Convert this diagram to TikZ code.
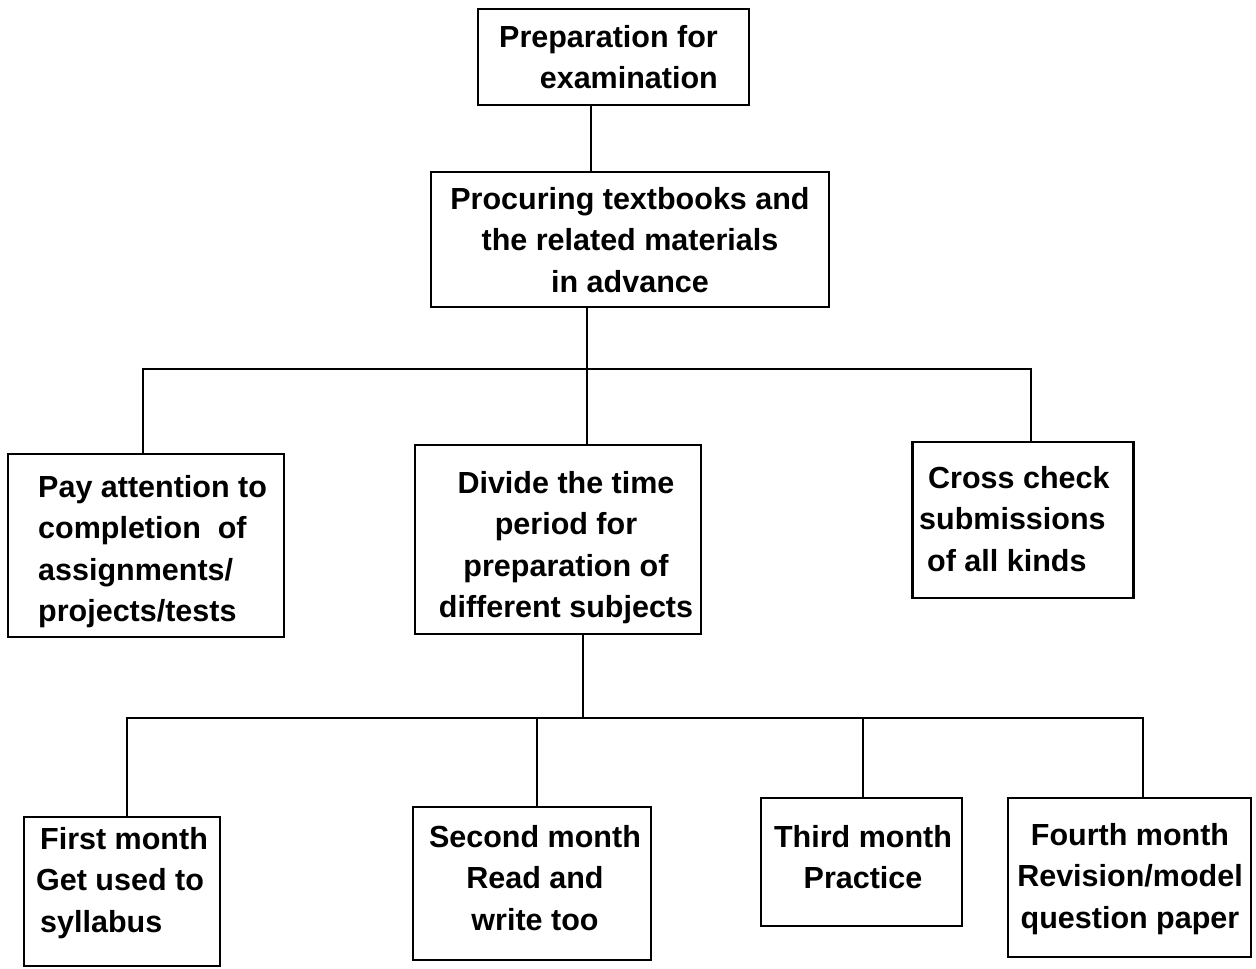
\documentclass[tikz,border=0pt]{standalone}
\usepackage{fontspec}
\setmainfont{Liberation Sans}
\begin{document}
\begin{tikzpicture}[x=1pt,y=-1pt,
  box/.style={draw, line width=2.6pt, inner sep=0pt},
  conn/.style={line width=2.4pt},
  txt/.style={inner sep=0pt, font=\fontsize{30.5}{41.5}\selectfont\bfseries}]
\useasboundingbox (0,0) rectangle (1256,969);
% boxes
\node[box, minimum width=271pt, minimum height=96pt]  (b1) at (613.5,57) {};
\node[box, minimum width=398pt, minimum height=135pt] (b2) at (630,239.5) {};
\node[box, minimum width=276pt, minimum height=183pt] (b3) at (146,545.5) {};
\node[box, minimum width=286pt, minimum height=189pt] (b4) at (558,539.5) {};
\node[box, minimum width=221pt, minimum height=156pt] (b5) at (1023,520) {};
\node[box, minimum width=196pt, minimum height=149pt] (b6) at (122,891.5) {};
\node[box, minimum width=238pt, minimum height=153pt] (b7) at (532,883.5) {};
\node[box, minimum width=201pt, minimum height=128pt] (b8) at (861.5,862) {};
\node[box, minimum width=243pt, minimum height=159pt] (b9) at (1129.5,877.5) {};
% texts
\node[txt, align=right, anchor=north east] (t1) at (718,25) {Preparation for\\examination};
\node[txt, align=center, anchor=north] (t2) at (630,187) {Procuring textbooks and\\the related materials\\in advance};
\node[txt, align=left, anchor=north west] (t3) at (38,475) {Pay attention to\\completion\ \ of\\assignments/\\projects/tests};
\node[txt, align=center, anchor=north] (t4) at (566,471) {Divide the time\\period for\\preparation of\\different subjects};
\node[txt, align=left, anchor=north west] (t5) at (919,466) {\hspace{9pt}Cross check\\submissions\\\hspace{8pt}of all kinds};
\node[txt, align=left, anchor=north west] (t6) at (36,827) {\hspace{4pt}First month\\Get used to\\\hspace{4pt}syllabus};
\node[txt, align=center, anchor=north] (t7) at (535,825) {Second month\\Read and\\write too};
\node[txt, align=center, anchor=north] (t8) at (863,825) {Third month\\Practice};
\node[txt, align=center, anchor=north] (t9) at (1130,823) {Fourth month\\Revision/model\\question paper};
% junction coordinates
\coordinate (c1) at (591,0);
\coordinate (busL) at (143,369);
\coordinate (busM) at (587,369);
\coordinate (busR) at (1031,369);
\coordinate (bustL) at (127,718);
\coordinate (bustM) at (583,718);
\coordinate (bustA) at (537,718);
\coordinate (bustB) at (863,718);
\coordinate (bustR) at (1143,718);
% connectors
\draw[conn] (b1.south -| c1) -- (b2.north -| c1);
\draw[conn] (b2.south -| busM) -- (b4.north -| busM);
\draw[conn] (busL |- b3.north) -- (busL) -- (busR) -- (busR |- b5.north);
\draw[conn] (b4.south -| bustM) -- (bustM);
\draw[conn] (bustL |- b6.north) -- (bustL) -- (bustR) -- (bustR |- b9.north);
\draw[conn] (bustA) -- (bustA |- b7.north);
\draw[conn] (bustB) -- (bustB |- b8.north);
\end{tikzpicture}
\end{document}
